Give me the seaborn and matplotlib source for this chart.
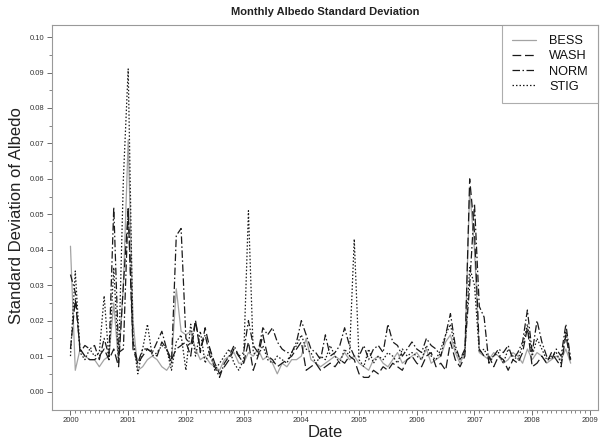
import numpy as np
import pandas as pd
import matplotlib
matplotlib.use("Agg")
import matplotlib.pyplot as plt
from matplotlib.ticker import FixedLocator, MultipleLocator, FormatStrFormatter
import seaborn as sns

# Monthly dates: Jan 2000 .. Sep 2008
years = list(range(2000, 2010))
n_months = 105
dates = [2000 + i / 12.0 for i in range(n_months)]

bess = [
    0.041, 0.006, 0.012, 0.010, 0.009, 0.009, 0.007, 0.009, 0.010, 0.025, 0.008, 0.030,
    0.071, 0.020, 0.006, 0.007, 0.009, 0.010, 0.009, 0.007, 0.006, 0.008, 0.029, 0.017,
    0.016, 0.017, 0.012, 0.009, 0.010, 0.008, 0.007, 0.006, 0.009, 0.010, 0.011, 0.008,
    0.008, 0.011, 0.010, 0.012, 0.009, 0.010, 0.008, 0.005, 0.008, 0.007, 0.009, 0.009,
    0.010, 0.015, 0.009, 0.008, 0.007, 0.008, 0.009, 0.010, 0.009, 0.011, 0.009, 0.010,
    0.008, 0.007, 0.006, 0.009, 0.010, 0.008, 0.007, 0.009, 0.011, 0.008, 0.009, 0.010,
    0.011, 0.009, 0.012, 0.008, 0.009, 0.010, 0.014, 0.016, 0.011, 0.008, 0.011, 0.057,
    0.040, 0.011, 0.010, 0.009, 0.011, 0.010, 0.008, 0.009, 0.011, 0.010, 0.008, 0.012,
    0.009, 0.011, 0.010, 0.008, 0.009, 0.010, 0.009, 0.012, 0.008,
]
wash = [
    0.012, 0.026, 0.012, 0.010, 0.009, 0.009, 0.010, 0.012, 0.009, 0.012, 0.007, 0.030,
    0.051, 0.012, 0.008, 0.010, 0.012, 0.011, 0.010, 0.014, 0.012, 0.009, 0.012, 0.013,
    0.014, 0.010, 0.020, 0.011, 0.018, 0.012, 0.008, 0.005, 0.007, 0.009, 0.012, 0.010,
    0.008, 0.014, 0.006, 0.010, 0.016, 0.010, 0.009, 0.007, 0.008, 0.009, 0.010, 0.012,
    0.014, 0.006, 0.007, 0.008, 0.006, 0.007, 0.008, 0.007, 0.009, 0.008, 0.010, 0.009,
    0.005, 0.004, 0.004, 0.006, 0.005, 0.007, 0.006, 0.008, 0.007, 0.006, 0.009, 0.010,
    0.008, 0.007, 0.010, 0.011, 0.007, 0.008, 0.006, 0.014, 0.009, 0.007, 0.010, 0.060,
    0.045, 0.012, 0.010, 0.010, 0.007, 0.010, 0.009, 0.006, 0.009, 0.008, 0.011, 0.018,
    0.007, 0.008, 0.010, 0.008, 0.011, 0.009, 0.007, 0.016, 0.008,
]
norm = [
    0.033, 0.028, 0.011, 0.013, 0.012, 0.013, 0.009, 0.015, 0.010, 0.052, 0.011, 0.012,
    0.052, 0.014, 0.008, 0.012, 0.012, 0.011, 0.014, 0.017, 0.012, 0.008, 0.044, 0.046,
    0.015, 0.013, 0.020, 0.012, 0.016, 0.010, 0.007, 0.004, 0.008, 0.010, 0.013, 0.010,
    0.011, 0.020, 0.013, 0.011, 0.018, 0.016, 0.018, 0.014, 0.012, 0.011, 0.011, 0.014,
    0.020, 0.016, 0.012, 0.011, 0.009, 0.016, 0.010, 0.011, 0.013, 0.018, 0.013, 0.010,
    0.010, 0.013, 0.009, 0.012, 0.013, 0.011, 0.019, 0.014, 0.013, 0.010, 0.012, 0.014,
    0.012, 0.011, 0.015, 0.013, 0.012, 0.010, 0.016, 0.022, 0.013, 0.009, 0.012, 0.030,
    0.053, 0.024, 0.021, 0.008, 0.010, 0.012, 0.011, 0.013, 0.009, 0.011, 0.014, 0.023,
    0.011, 0.020, 0.014, 0.010, 0.009, 0.012, 0.010, 0.019, 0.009,
]
stig = [
    0.010, 0.034, 0.011, 0.009, 0.012, 0.010, 0.011, 0.027, 0.009, 0.035, 0.008, 0.060,
    0.091, 0.015, 0.005, 0.012, 0.019, 0.010, 0.011, 0.013, 0.012, 0.006, 0.014, 0.016,
    0.006, 0.019, 0.010, 0.017, 0.008, 0.012, 0.006, 0.008, 0.010, 0.012, 0.008, 0.006,
    0.009, 0.051, 0.011, 0.010, 0.013, 0.009, 0.008, 0.010, 0.009, 0.008, 0.011, 0.013,
    0.016, 0.012, 0.011, 0.008, 0.010, 0.009, 0.013, 0.010, 0.008, 0.012, 0.010, 0.043,
    0.009, 0.007, 0.012, 0.008, 0.010, 0.009, 0.011, 0.010, 0.008, 0.012, 0.010, 0.011,
    0.010, 0.009, 0.013, 0.010, 0.009, 0.012, 0.016, 0.019, 0.012, 0.009, 0.011, 0.035,
    0.030, 0.011, 0.012, 0.009, 0.010, 0.011, 0.008, 0.012, 0.010, 0.009, 0.013, 0.019,
    0.010, 0.015, 0.012, 0.009, 0.010, 0.011, 0.008, 0.017, 0.009,
]

series_names = ["BESS", "WASH", "NORM", "STIG"]
series_values = [bess, wash, norm, stig]
series_colors = ["#a3a3a3", "#1a1a1a", "#1a1a1a", "#1a1a1a"]
series_styles = ["-", (0, (7, 3)), (0, (6, 2, 1.2, 2)), (0, (1.2, 1.6))]

sns.set_style("ticks")
plt.rcParams["font.family"] = ["Liberation Sans", "DejaVu Sans"]

fig = plt.figure(figsize=(6.02, 4.40), dpi=100)
ax = fig.add_axes([52 / 602, 30 / 440, (598 - 52) / 602, (410 - 25) / 440])

df = pd.DataFrame({"Date": dates})
for name, vals in zip(series_names, series_values):
    df[name] = vals

for name, col, ls in zip(series_names, series_colors, series_styles):
    sns.lineplot(data=df, x="Date", y=name, ax=ax, color=col, linewidth=0.9,
                 label=name, errorbar=None)
    ax.lines[-1].set_linestyle(ls)

ax.set_xlim(1999.68, 2009.14)
ax.set_ylim(-0.0052, 0.1034)

ax.xaxis.set_major_locator(FixedLocator(years))
ax.set_xticklabels([str(y) for y in years])
ax.xaxis.set_minor_locator(FixedLocator([2000 + m / 12 for m in range(0, 109)]))
ax.yaxis.set_major_locator(FixedLocator([k / 100 for k in range(0, 11)]))
ax.yaxis.set_minor_locator(FixedLocator([k / 200 for k in range(0, 21)]))
ax.yaxis.set_major_formatter(FormatStrFormatter("%.2f"))

ax.tick_params(axis="both", which="major", direction="out", length=3.5, width=0.6,
               color="#555555", labelsize=5.5, labelcolor="#333333", pad=1.8)
ax.tick_params(axis="both", which="minor", direction="out", length=2.2, width=0.5,
               color="#555555")

for sp in ax.spines.values():
    sp.set_visible(True)
    sp.set_color("#999999")
    sp.set_linewidth(0.8)

ax.set_xlabel("Date", fontsize=12, color="#222222")
ax.xaxis.set_label_coords(0.5, -0.038)
ax.set_ylabel("Standard Deviation of Albedo", fontsize=12, color="#222222")
ax.yaxis.set_label_coords(-0.052, 0.505)
ax.set_title("Monthly Albedo Standard Deviation", fontsize=8, fontweight="bold",
             color="#222222", pad=7)

leg = ax.legend(loc="upper right", bbox_to_anchor=(1.0, 1.0), borderaxespad=0,
                fancybox=False, frameon=True, fontsize=9.2, handlelength=1.9,
                handletextpad=1.0, labelspacing=0.25, borderpad=0.8)
leg.get_frame().set_edgecolor("#999999")
leg.get_frame().set_linewidth(0.8)
for t in leg.get_texts():
    t.set_color("#111111")

fig.savefig("out.png", dpi=100)
